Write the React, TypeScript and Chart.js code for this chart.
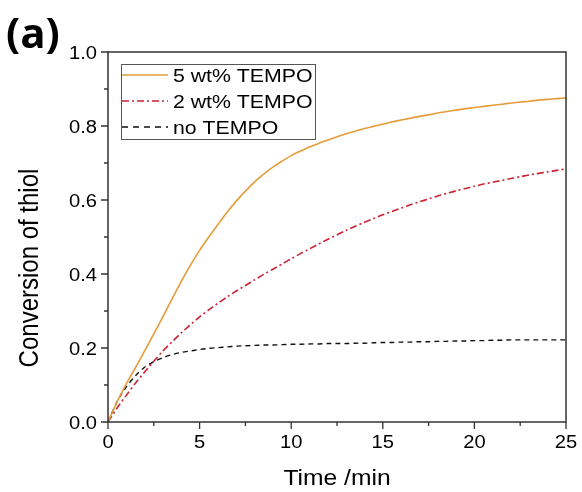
import React, { useEffect, useRef } from 'react';
import { Chart, registerables } from 'chart.js';

Chart.register(...registerables);

const TIME = [0, 0.5, 1, 1.5, 2, 2.5, 3, 3.5, 4, 4.5, 5, 5.5, 6, 6.5, 7, 7.5, 8, 8.5, 9, 9.5, 10, 10.5, 11, 11.5, 12, 12.5, 13, 13.5, 14, 14.5, 15, 15.5, 16, 16.5, 17, 17.5, 18, 18.5, 19, 19.5, 20, 20.5, 21, 21.5, 22, 22.5, 23, 23.5, 24, 24.5, 25];
const TEMPO_5 = [0, 0.055, 0.103, 0.147, 0.192, 0.238, 0.285, 0.333, 0.38, 0.424, 0.464, 0.5, 0.534, 0.567, 0.597, 0.624, 0.649, 0.67, 0.689, 0.705, 0.72, 0.732, 0.743, 0.753, 0.762, 0.771, 0.779, 0.786, 0.793, 0.799, 0.805, 0.811, 0.816, 0.821, 0.826, 0.83, 0.835, 0.839, 0.843, 0.847, 0.85, 0.853, 0.856, 0.859, 0.862, 0.865, 0.867, 0.87, 0.872, 0.874, 0.876];
const TEMPO_2 = [0, 0.038, 0.072, 0.105, 0.135, 0.164, 0.192, 0.217, 0.241, 0.263, 0.284, 0.303, 0.321, 0.338, 0.354, 0.369, 0.384, 0.399, 0.413, 0.427, 0.441, 0.455, 0.468, 0.481, 0.494, 0.506, 0.518, 0.529, 0.54, 0.55, 0.56, 0.569, 0.578, 0.587, 0.595, 0.603, 0.611, 0.618, 0.625, 0.631, 0.637, 0.643, 0.648, 0.653, 0.658, 0.663, 0.668, 0.672, 0.676, 0.68, 0.684];
const NO_TEMPO = [0, 0.055, 0.095, 0.125, 0.148, 0.163, 0.174, 0.182, 0.188, 0.192, 0.196, 0.199, 0.201, 0.203, 0.205, 0.206, 0.207, 0.208, 0.208, 0.209, 0.21, 0.21, 0.211, 0.211, 0.212, 0.212, 0.212, 0.213, 0.213, 0.214, 0.215, 0.215, 0.216, 0.216, 0.217, 0.217, 0.218, 0.218, 0.219, 0.219, 0.22, 0.22, 0.221, 0.221, 0.222, 0.222, 0.222, 0.222, 0.222, 0.222, 0.222];

const SERIES_LABELS = ['5 wt% TEMPO', '2 wt% TEMPO', 'no TEMPO'];
const X_TICKS = [0, 5, 10, 15, 20, 25];
const X_MINOR = [2.5, 7.5, 12.5, 17.5, 22.5];
const Y_TICKS = [0, 0.2, 0.4, 0.6, 0.8, 1.0];
const Y_MINOR = [0.1, 0.3, 0.5, 0.7, 0.9];
const X_TITLE = 'Time /min';
const Y_TITLE = 'Conversion of thiol';
const PANEL = '(a)';

const FONT = "'Liberation Sans', Arial, sans-serif";
const SX = 1.12;

function drawText(ctx: CanvasRenderingContext2D, s: string, x: number, y: number, align: CanvasTextAlign, font: string) {
  ctx.save();
  ctx.font = font;
  ctx.translate(x, y);
  ctx.scale(SX, 1);
  ctx.textAlign = align;
  ctx.textBaseline = 'alphabetic';
  ctx.fillStyle = '#000';
  ctx.fillText(s, 0, 0);
  ctx.restore();
}

const decorPlugin = {
  id: 'decor',
  afterDraw(chart: any) {
    const ctx: CanvasRenderingContext2D = chart.ctx;
    const { left, right, top, bottom } = chart.chartArea;
    const xs = chart.scales.x;
    const ys = chart.scales.y;
    ctx.save();
    ctx.strokeStyle = '#333';
    ctx.lineWidth = 1.5;
    ctx.strokeRect(left, top, right - left, bottom - top);
    ctx.lineWidth = 1.3;
    ctx.beginPath();
    X_TICKS.forEach(v => { const p = xs.getPixelForValue(v); ctx.moveTo(p, bottom); ctx.lineTo(p, bottom + 7); });
    X_MINOR.forEach(v => { const p = xs.getPixelForValue(v); ctx.moveTo(p, bottom); ctx.lineTo(p, bottom + 4); });
    Y_TICKS.forEach(v => { const p = ys.getPixelForValue(v); ctx.moveTo(left, p); ctx.lineTo(left - 7, p); });
    Y_MINOR.forEach(v => { const p = ys.getPixelForValue(v); ctx.moveTo(left, p); ctx.lineTo(left - 4, p); });
    ctx.stroke();
    ctx.restore();

    const tickFont = `18px ${FONT}`;
    X_TICKS.forEach(v => drawText(ctx, String(v), xs.getPixelForValue(v), bottom + 26, 'center', tickFont));
    Y_TICKS.forEach(v => drawText(ctx, v.toFixed(1), left - 11, ys.getPixelForValue(v) + 6.5, 'right', tickFont));

    drawText(ctx, X_TITLE, (left + right) / 2, 485, 'center', `22px ${FONT}`);
    ctx.save();
    ctx.translate(31, 268);
    ctx.rotate(-Math.PI / 2);
    ctx.scale(1, SX);
    ctx.font = `24px ${FONT}`;
    ctx.textAlign = 'center';
    ctx.textBaseline = 'middle';
    ctx.fillStyle = '#000';
    ctx.fillText(Y_TITLE, 0, 0);
    ctx.restore();

    ctx.save();
    ctx.font = "bold 42px 'Open Sans', 'DejaVu Sans', sans-serif";
    ctx.fillStyle = '#000';
    ctx.textAlign = 'left';
    ctx.textBaseline = 'alphabetic';
    ctx.fillText(PANEL, 6, 48);
    ctx.restore();

    const lx = 121, ly = 64, lw = 194, lh = 75;
    ctx.save();
    ctx.fillStyle = '#fff';
    ctx.fillRect(lx, ly, lw, lh);
    ctx.strokeStyle = '#555';
    ctx.lineWidth = 1;
    ctx.strokeRect(lx + 0.5, ly + 0.5, lw, lh);
    chart.data.datasets.forEach((ds: any, i: number) => {
      const yy = 75 + i * 26;
      ctx.save();
      ctx.strokeStyle = ds.borderColor;
      ctx.lineWidth = ds.borderWidth;
      ctx.setLineDash(ds.legendDash || ds.borderDash || []);
      ctx.beginPath();
      ctx.moveTo(lx + 1, yy);
      ctx.lineTo(lx + 47, yy);
      ctx.stroke();
      ctx.restore();
      drawText(ctx, ds.label, lx + 52, yy + 7, 'left', `19px ${FONT}`);
    });
    ctx.restore();
  },
};

export default function App() {
  const ref = useRef<HTMLCanvasElement | null>(null);
  useEffect(() => {
    if (!ref.current) return;
    const mk = (arr: number[]) => TIME.map((t, i) => ({ x: t, y: arr[i] }));
    const chart = new Chart(ref.current, {
      type: 'line',
      data: {
        datasets: [
          { label: SERIES_LABELS[0], data: mk(TEMPO_5), borderColor: '#E59C3A', borderWidth: 1.6, pointRadius: 0, tension: 0.3 },
          { label: SERIES_LABELS[1], data: mk(TEMPO_2), borderColor: '#CC2233', borderWidth: 1.6, pointRadius: 0, tension: 0.3, borderDash: [7, 3, 2, 3] },
          { label: SERIES_LABELS[2], data: mk(NO_TEMPO), borderColor: '#111', borderWidth: 1.4, pointRadius: 0, tension: 0.3, borderDash: [5, 4], legendDash: [6, 5] } as any,
        ],
      },
      options: {
        responsive: false,
        animation: false,
        events: [],
        layout: { padding: { left: 0, top: 52, right: 16, bottom: 0 } },
        plugins: { legend: { display: false }, tooltip: { enabled: false }, title: { display: false } },
        scales: {
          x: {
            type: 'linear', min: 0, max: 25,
            ticks: { display: false, stepSize: 5 },
            grid: { display: false }, border: { display: false },
            afterFit: (s: any) => { s.height = 70; },
          },
          y: {
            type: 'linear', min: 0, max: 1,
            ticks: { display: false, stepSize: 0.2 },
            grid: { display: false }, border: { display: false },
            afterFit: (s: any) => { s.width = 108; },
          },
        },
      },
      plugins: [decorPlugin],
    });
    return () => chart.destroy();
  }, []);
  return (
    <div style={{ position: 'fixed', left: 0, top: 0, width: 582, height: 492, background: '#fff' }}>
      <canvas ref={ref} width={582} height={492} style={{ width: 582, height: 492 }} />
    </div>
  );
}
